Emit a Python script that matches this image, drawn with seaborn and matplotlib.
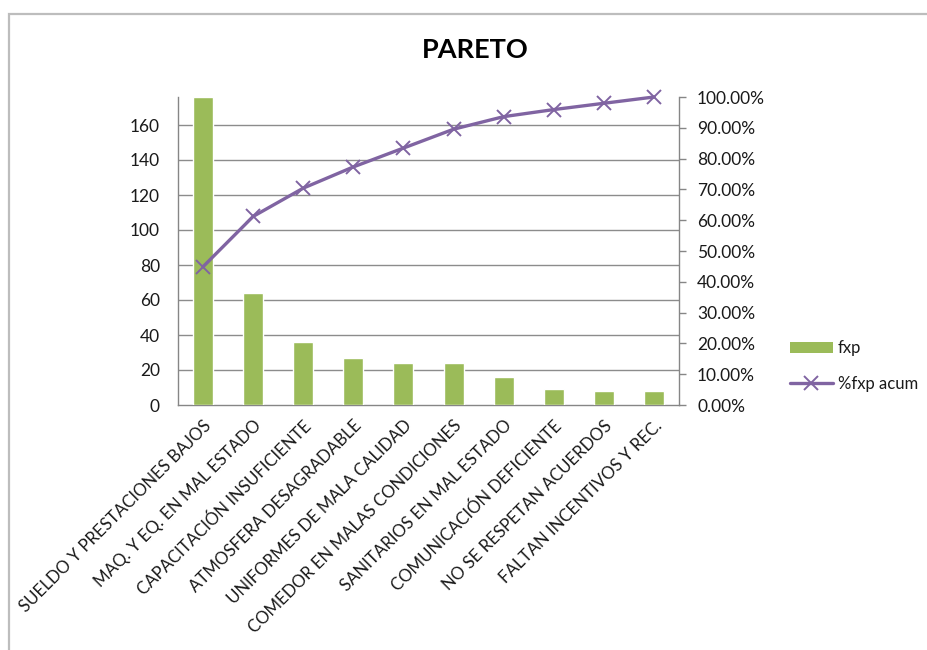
import numpy as np
import pandas as pd
import matplotlib
matplotlib.use("Agg")
import matplotlib.pyplot as plt
import seaborn as sns
from matplotlib.patches import Patch, Rectangle
from matplotlib.lines import Line2D
from matplotlib.ticker import FuncFormatter, FixedLocator

# Causes of dissatisfaction and their frequencies
categories = [
    "SUELDO Y PRESTACIONES BAJOS",
    "MAQ. Y EQ. EN MAL ESTADO",
    "CAPACITACIÓN INSUFICIENTE",
    "ATMOSFERA DESAGRADABLE",
    "UNIFORMES DE MALA CALIDAD",
    "COMEDOR EN MALAS CONDICIONES",
    "SANITARIOS EN MAL ESTADO",
    "COMUNICACIÓN DEFICIENTE",
    "NO SE RESPETAN ACUERDOS",
    "FALTAN INCENTIVOS Y REC.",
]
fxp = [176, 64, 36, 27, 24, 24, 16, 9, 8, 8]

left_ticks = [0, 20, 40, 60, 80, 100, 120, 140, 160]
right_ticks = [0.0, 0.1, 0.2, 0.3, 0.4, 0.5, 0.6, 0.7, 0.8, 0.9, 1.0]

df = pd.DataFrame({"causa": categories, "fxp": fxp})
df["pos"] = np.arange(len(df))
df["acum"] = df["fxp"].cumsum() / df["fxp"].sum()

sns.set_theme(style="white")
plt.rcParams["font.family"] = ["Lato", "DejaVu Sans"]

GREEN = "#9BBB59"
PURPLE = "#8064A2"
GRID = "#8C8C8C"
TEXT = "#1A1A1A"

fig = plt.figure(figsize=(9.27, 6.5), dpi=100)
fig.patch.set_facecolor("white")

# chart frame
fig.add_artist(Rectangle((9 / 927, -0.01), 1.0, (650 - 14) / 650 + 0.01,
                         transform=fig.transFigure, fill=False,
                         edgecolor="#BDBDBD", linewidth=1.6))

ax = fig.add_axes([178 / 927, (650 - 405) / 650, (679 - 178) / 927, (405 - 97) / 650])

sns.barplot(data=df, x="causa", y="fxp", order=categories, color=GREEN,
            saturation=1, width=0.4, ax=ax, zorder=3)
ax.set_ylim(0, 176)
ax.set_xlim(-0.5, len(categories) - 0.5)
ax.yaxis.set_major_locator(FixedLocator(left_ticks))
for t in left_ticks[1:]:
    ax.axhline(t, color=GRID, linewidth=1.0, zorder=1)
ax.set_xlabel("")
ax.set_ylabel("")
ax.tick_params(axis="y", length=0, pad=13, labelsize=12.5, labelcolor=TEXT)
ax.tick_params(axis="x", length=0, pad=9, labelsize=12.2, labelcolor=TEXT)
ax.set_xticks(range(len(categories)))
ax.set_xticklabels(categories, rotation=45, ha="right", rotation_mode="anchor")
for side in ["top", "right"]:
    ax.spines[side].set_visible(False)
ax.spines["left"].set_color("#868686")
ax.spines["bottom"].set_color("#868686")
ax.spines["left"].set_linewidth(1.0)
ax.spines["bottom"].set_linewidth(1.0)

ax2 = ax.twinx()
sns.lineplot(data=df, x="pos", y="acum", color=PURPLE, linewidth=2.4,
             marker="x", markersize=10, markeredgewidth=1.4,
             markeredgecolor=PURPLE, ax=ax2, zorder=4, clip_on=False)
ax2.set_ylim(0, 1)
ax2.set_xlim(-0.5, len(categories) - 0.5)
ax2.yaxis.set_major_locator(FixedLocator(right_ticks))
ax2.yaxis.set_major_formatter(FuncFormatter(lambda v, p: f"{v * 100:.2f}%"))
ax2.set_ylabel("")
ax2.set_xlabel("")
ax2.tick_params(axis="y", right=True, length=5, width=1, color="#868686",
                pad=8, labelsize=12.5, labelcolor=TEXT, direction="out")
for side in ["top", "left", "bottom"]:
    ax2.spines[side].set_visible(False)
ax2.spines["right"].set_color("#868686")
ax2.spines["right"].set_linewidth(1.0)
ax2.grid(False)

fig.text(475 / 927, 1 - 50 / 650, "PARETO", ha="center", va="center",
         fontsize=19.5, fontweight="bold", color="black")

handles = [
    Patch(facecolor=GREEN, edgecolor="none", label="fxp"),
    Line2D([0], [0], color=PURPLE, linewidth=2.4, marker="x", markersize=10,
           markeredgewidth=1.4, label="%fxp acum"),
]
fig.legend(handles=handles, loc="center left",
           bbox_to_anchor=(783 / 927, 1 - 366 / 650), frameon=False,
           fontsize=12, handlelength=2.6, handletextpad=0.3,
           labelspacing=1.15, borderaxespad=0, labelcolor=TEXT)

fig.savefig("out.png", dpi=100, facecolor="white")
